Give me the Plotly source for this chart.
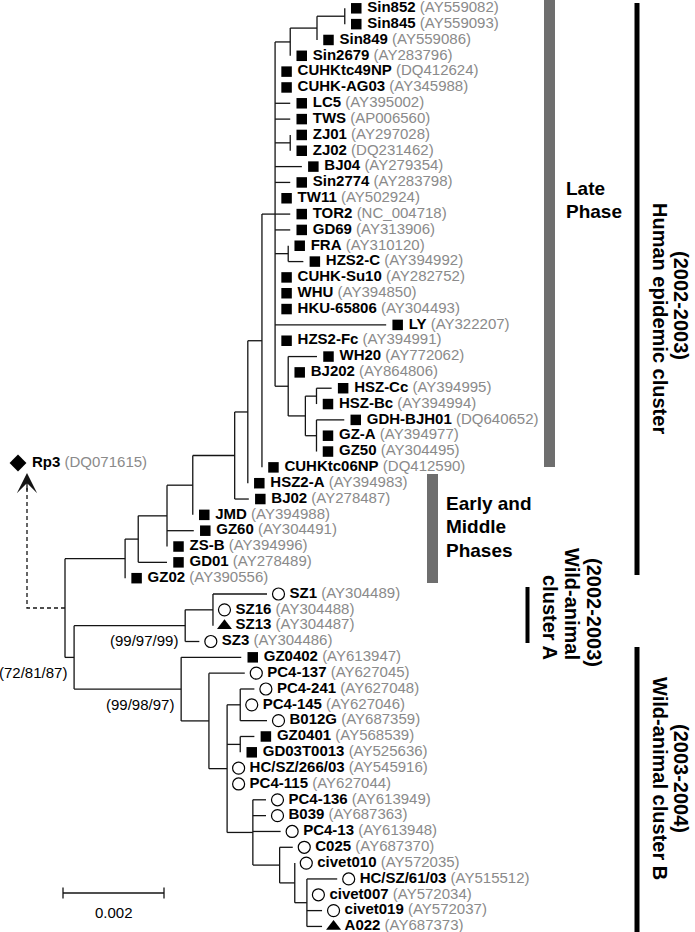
import plotly.graph_objects as go

# ---------------- tree data (branch lengths in substitutions/site) ----------------
node = ["H0", "H1", "H2", "H3", "H4", "H5", "H6", "H7",
        "S0", "S1", "S2", "Sin852", "Sin845", "Sin849", "Sin2679",
        "CUHKtc49NP", "CUHK-AG03", "LC5", "TWS", "ZJ", "ZJ01", "ZJ02", "BJ04", "Sin2774", "TW11", "TOR2", "GD69",
        "FH", "FRA", "HZS2-C", "CUHK-Su10", "WHU", "HKU-65806", "LY", "HZS2-Fc",
        "L1", "WH20", "BJ202", "L2", "HSZ", "HSZ-Cc", "HSZ-Bc", "GZN", "GDH-BJH01", "GZ-A", "GZ50",
        "CUHKtc06NP", "HSZ2-A", "BJ02", "JMD", "GZ60", "ZS-B", "GD01", "GZ02",
        "W", "SZN", "SZA", "SZ1", "SZ16", "SZ13", "SZ3",
        "B", "GZ0402", "B1", "PC4-137", "B2", "B241", "PC4-241", "PC4-145", "B012G",
        "B0401", "GZ0401", "GD03T0013", "HC/SZ/266/03", "PC4-115",
        "L", "PC4-136", "B039", "PC4-13", "C1", "C025", "C2", "civet010", "C3",
        "HC/SZ/61/03", "civet007", "civet019", "A022"]

parent = ["root", "H0", "H1", "H2", "H3", "H4", "H5", "H6",
          "H7", "S0", "S1", "S2", "S2", "S1", "S0",
          "H7", "H7", "H7", "H7", "H7", "ZJ", "ZJ", "H7", "H7", "H7", "H7", "H7",
          "H7", "FH", "FH", "H7", "H7", "H7", "H7", "H7",
          "H7", "L1", "L1", "L1", "L2", "HSZ", "HSZ", "L2", "GZN", "GZN", "GZN",
          "H6", "H5", "H4", "H3", "H2", "H2", "H1", "H0",
          "root", "W", "SZN", "SZA", "SZA", "SZA", "SZN",
          "W", "B", "B", "B1", "B1", "B2", "B241", "B241", "B241",
          "B2", "B0401", "B0401", "B2", "B2",
          "B2", "L", "L", "L", "L", "C1", "C1", "C2", "C2",
          "C3", "C3", "C3", "C3"]

length = [0.00119, 0.00026, 0.00057, 0.00051, 0.00083, 0.00026, 0.00028, 0.00026,
          0.00030, 0.00053, 0.00055, 0.0, 0.0, 0.0, 0.0,
          0.0, 0.0, 0.00030, 0.00030, 0.00030, 0.0, 0.0, 0.00053, 0.00030, 0.0, 0.00030, 0.00030,
          0.00026, 0.0, 0.00030, 0.0, 0.0, 0.0, 0.00220, 0.0,
          0.00026, 0.00057, 0.0, 0.00034, 0.00022, 0.00030, 0.0, 0.00022, 0.00055, 0.0, 0.0,
          0.0, 0.0, 0.00028, 0.0, 0.00053, 0.0, 0.00057, 0.0,
          0.00018, 0.00220, 0.00055, 0.00107, 0.0, 0.0, 0.00028,
          0.00212, 0.00119, 0.00055, 0.00071, 0.00036, 0.00026, 0.00028, 0.0, 0.00053,
          0.00026, 0.00028, 0.0, 0.0, 0.0,
          0.00051, 0.00026, 0.00026, 0.00055, 0.00053, 0.00026, 0.00030, 0.0, 0.00024,
          0.00060, 0.0, 0.00030, 0.00030]

leaf_names = ["Sin852", "Sin845", "Sin849", "Sin2679", "CUHKtc49NP", "CUHK-AG03", "LC5", "TWS",
              "ZJ01", "ZJ02", "BJ04", "Sin2774", "TW11", "TOR2", "GD69", "FRA", "HZS2-C",
              "CUHK-Su10", "WHU", "HKU-65806", "LY", "HZS2-Fc", "WH20", "BJ202", "HSZ-Cc",
              "HSZ-Bc", "GDH-BJH01", "GZ-A", "GZ50", "CUHKtc06NP", "HSZ2-A", "BJ02", "JMD",
              "GZ60", "ZS-B", "GD01", "GZ02", "SZ1", "SZ16", "SZ13", "SZ3", "GZ0402",
              "PC4-137", "PC4-241", "PC4-145", "B012G", "GZ0401", "GD03T0013", "HC/SZ/266/03",
              "PC4-115", "PC4-136", "B039", "PC4-13", "C025", "civet010", "HC/SZ/61/03",
              "civet007", "civet019", "A022"]

accessions = ["AY559082", "AY559093", "AY559086", "AY283796", "DQ412624", "AY345988", "AY395002", "AP006560",
              "AY297028", "DQ231462", "AY279354", "AY283798", "AY502924", "NC_004718", "AY313906", "AY310120", "AY394992",
              "AY282752", "AY394850", "AY304493", "AY322207", "AY394991", "AY772062", "AY864806", "AY394995",
              "AY394994", "DQ640652", "AY394977", "AY304495", "DQ412590", "AY394983", "AY278487", "AY394988",
              "AY304491", "AY394996", "AY278489", "AY390556", "AY304489", "AY304488", "AY304487", "AY304486", "AY613947",
              "AY627045", "AY627048", "AY627046", "AY687359", "AY568539", "AY525636", "AY545916",
              "AY627044", "AY613949", "AY687363", "AY613948", "AY687370", "AY572035", "AY515512",
              "AY572034", "AY572037", "AY687373"]

hosts = ["human"] * 37 + ["civet", "civet", "raccoon dog", "civet", "human",
                          "civet", "civet", "civet", "civet", "human", "human", "civet",
                          "civet", "civet", "civet", "civet", "civet", "civet", "civet",
                          "civet", "civet", "raccoon dog"]

outgroup_name = "Rp3"
outgroup_acc = "DQ071615"

bootstrap_nodes = ["W", "SZN", "B"]
bootstrap_text = ["(72/81/87)", "(99/97/99)", "(99/98/97)"]

scale_length = 0.002

# ---------------- layout helpers (pixel geometry) ----------------
W, H = 695, 932
PX = scale_length / 101.0      # data units per pixel
ROOT_PX = 65
ROW, ROW0 = 15.83, 8.3


def dx(p):
    return p * PX


def X(p):
    return (p - ROOT_PX) * PX


def Y(p):
    return (p - ROW0) / ROW


# ---------------- compute tree layout ----------------
children = {}
for n, p in zip(node, parent):
    children.setdefault(p, []).append(n)
blen = dict(zip(node, length))
leaf_idx = {n: i for i, n in enumerate(leaf_names)}
xpos = {"root": 0.0}
ypos = {}


def place(n):
    for c in children.get(n, []):
        xpos[c] = xpos[n] + blen[c]
        place(c)
    if n in children:
        ys = [ypos[c] for c in children[n]]
        ypos[n] = (min(ys) + max(ys)) / 2.0
    else:
        ypos[n] = leaf_idx[n]


place("root")

lx, ly = [], []
for n, p in zip(node, parent):
    lx += [xpos[p], xpos[n], None]
    ly += [ypos[n], ypos[n], None]
for n, ch in children.items():
    ys = [ypos[c] for c in ch]
    lx += [xpos[n], xpos[n], None]
    ly += [min(ys), max(ys), None]

fig = go.Figure()
LINE = "#141414"
fig.add_trace(go.Scatter(x=lx, y=ly, mode="lines", line=dict(color=LINE, width=1.3),
                         hoverinfo="skip"))

# outgroup (dashed, length not to scale)
ry = ypos["root"]
fig.add_trace(go.Scatter(x=[0, X(27), X(27)], y=[ry, ry, Y(488)], mode="lines",
                         line=dict(color=LINE, width=1.3, dash="4px,3px"), hoverinfo="skip"))
fig.add_trace(go.Scatter(x=[X(18)], y=[Y(463)], mode="markers",
                         marker=dict(symbol="diamond", size=13, color="black"), hoverinfo="skip"))
GREY = "#8a8a8a"
FONT = "Liberation Sans, Arial, sans-serif"
fig.add_trace(go.Scatter(x=[X(32)], y=[Y(463)], mode="text", textposition="middle right",
                         text=[f"<b>{outgroup_name}</b> <span style='color:{GREY}'>({outgroup_acc})</span>"],
                         textfont=dict(family=FONT, size=15, color="black"), hoverinfo="skip"))

# leaf markers
styles = {"human": dict(symbol="square", size=10.5, color="black"),
          "civet": dict(symbol="circle-open", size=12, color="black", line=dict(width=1.2, color="black")),
          "raccoon dog": dict(symbol="triangle-up", size=13, color="black")}
for host, st in styles.items():
    xs = [xpos[n] + dx(11.5) for n, h in zip(leaf_names, hosts) if h == host]
    ys = [ypos[n] for n, h in zip(leaf_names, hosts) if h == host]
    fig.add_trace(go.Scatter(x=xs, y=ys, mode="markers", marker=st, hoverinfo="skip"))

fig.add_trace(go.Scatter(
    x=[xpos[n] + dx(22.5) for n in leaf_names], y=[ypos[n] for n in leaf_names],
    mode="text", textposition="middle right",
    text=[f"<b>{n}</b> <span style='color:{GREY}'>({a})</span>" for n, a in zip(leaf_names, accessions)],
    textfont=dict(family=FONT, size=15, color="black"), hoverinfo="skip"))

# scale bar
sx0 = X(63)
sy = Y(893)
fig.add_trace(go.Scatter(
    x=[sx0, sx0 + scale_length, None, sx0, sx0, None, sx0 + scale_length, sx0 + scale_length],
    y=[sy, sy, None, sy - 0.35, sy + 0.35, None, sy - 0.35, sy + 0.35],
    mode="lines", line=dict(color=LINE, width=1.3), hoverinfo="skip"))

ann = []
# arrow head of the outgroup pointer
ann.append(dict(x=X(27), y=Y(473), ax=X(27), ay=Y(492), xref="x", yref="y", axref="x", ayref="y",
                text="", showarrow=True, arrowhead=3, arrowsize=2.6, arrowwidth=1.3,
                arrowcolor=LINE, standoff=0))
ann.append(dict(x=sx0 + scale_length / 2, y=Y(912), text=f"{scale_length}", showarrow=False,
                font=dict(family=FONT, size=15, color="black"), xanchor="center", yanchor="middle"))

for nname, t in zip(bootstrap_nodes, bootstrap_text):
    ann.append(dict(x=xpos[nname] - dx(5), y=ypos[nname] + 15 / ROW, text=t, showarrow=False,
                    font=dict(family=FONT, size=15, color="black"), xanchor="right", yanchor="middle"))

# clade bars
shapes = []


def bar(x0, x1, y0, y1, col):
    shapes.append(dict(type="rect", xref="x", yref="y", x0=X(x0), x1=X(x1), y0=Y(y0), y1=Y(y1),
                       fillcolor=col, line=dict(width=0), layer="above"))


bar(544, 555, 0, 467, "#6e6e6e")
bar(427, 438, 474, 583, "#6e6e6e")
bar(634.5, 639.5, 3, 575, "black")
bar(525.5, 529.5, 587, 643, "black")
bar(634.5, 639.5, 647, 932, "black")

BF = dict(family=FONT, size=19, color="black")
RF = dict(family=FONT, size=20, color="black")


def label(px_, py_, text, angle=0, anchor="left", font=BF):
    ann.append(dict(x=X(px_), y=Y(py_), text=f"<b>{text}</b>", showarrow=False, font=font,
                    textangle=angle, xanchor=anchor, yanchor="middle"))


label(564, 188, "Late")
label(564, 211, "Phase")
label(444, 503, "Early and")
label(444, 526, "Middle")
label(444, 550, "Phases")

label(681, 305, "(2002-2003)", 90, "center", RF)
label(660, 318, "Human epidemic cluster", 90, "center", RF)
label(594, 612, "(2002-2003)", 90, "center", RF)
label(572, 604, "Wild-animal", 90, "center", RF)
label(550, 617, "cluster A", 90, "center", RF)
label(681, 778, "(2003-2004)", 90, "center", RF)
label(660, 778, "Wild-animal cluster B", 90, "center", RF)

fig.update_layout(
    width=W, height=H, margin=dict(l=0, r=0, t=0, b=0),
    paper_bgcolor="white", plot_bgcolor="white", showlegend=False,
    xaxis=dict(visible=False, range=[X(0), X(W)], fixedrange=True),
    yaxis=dict(visible=False, range=[Y(H), Y(0)], fixedrange=True),
    annotations=ann, shapes=shapes,
)

fig.write_html("out.html", config={"displayModeBar": False},
               post_script="document.body.style.margin='0';document.body.style.overflow='hidden';")
